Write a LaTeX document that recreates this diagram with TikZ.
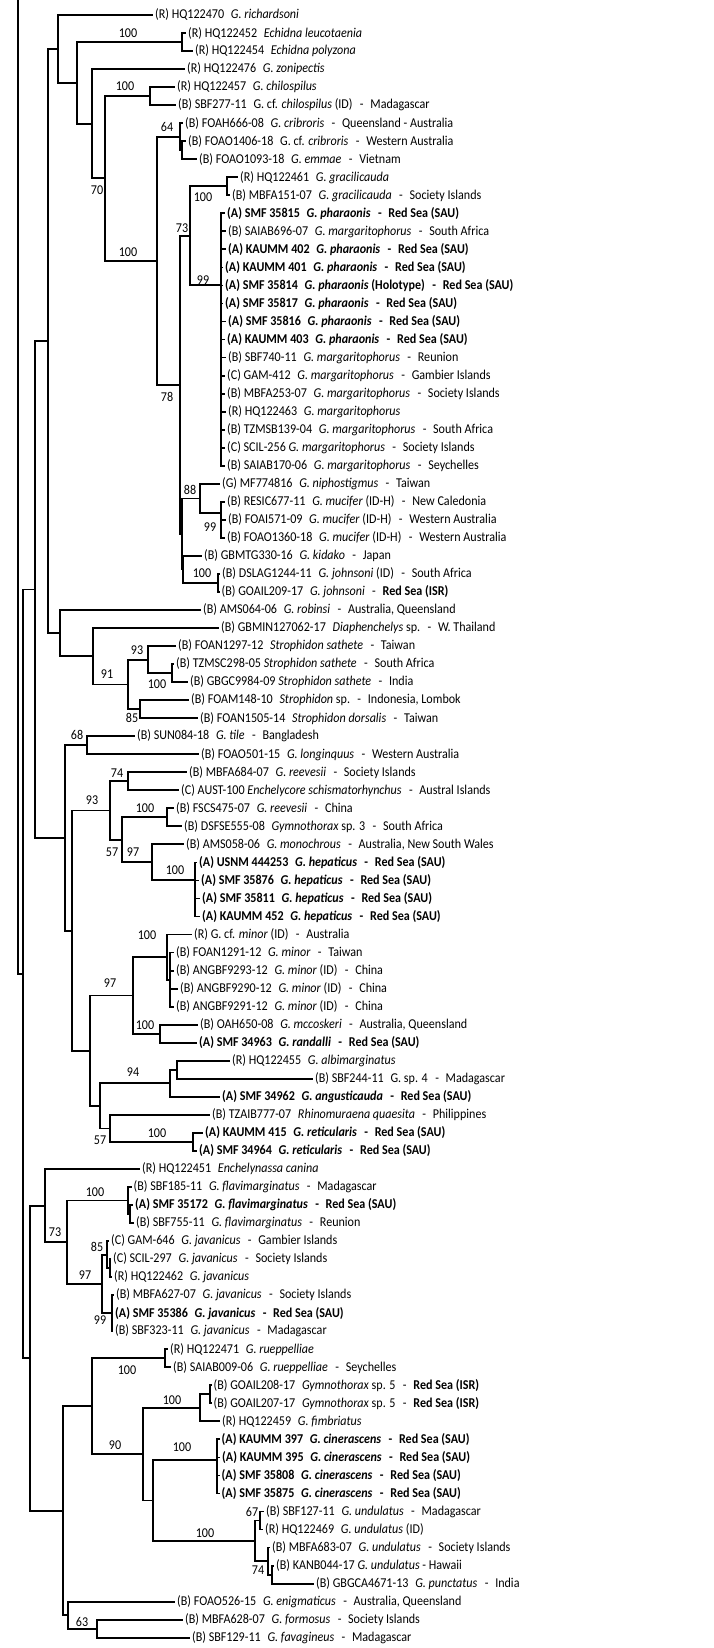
\documentclass[tikz,border=0pt]{standalone}
\usepackage{fontspec}
\setmainfont{Carlito}[FakeStretch=0.895]
\newcommand\mygap{\hspace{0.5em}}
\newcommand\mysep{\hspace{0.55em}-\hspace{0.5em}}
\newcommand\redA[2]{\textbf{(A) #1\mygap\textit{#2}\mysep Red Sea (SAU)}}
\tikzset{
  br/.style={line width=1.8pt},
  leaf/.style={anchor=west, inner xsep=2pt, inner ysep=0pt, font=\fontsize{13.5}{15}\selectfont},
  sup/.style={inner sep=0pt, font=\fontsize{13.5}{15}\selectfont},
}
\begin{document}
\begin{tikzpicture}[x=1pt,y=-1pt]
\useasboundingbox (0,0) rectangle (713,1648);
% ---------- leaves ----------
\node[leaf] (L1) at (153,15) {(R) HQ122470\mygap\textit{G. richardsoni}};
\node[leaf] (L2) at (186,33.03) {(R) HQ122452\mygap\textit{Echidna leucotaenia}};
\node[leaf] (L3) at (193,51.06) {(R) HQ122454\mygap\textit{Echidna polyzona}};
\node[leaf] (L4) at (185,69.09) {(R) HQ122476\mygap\textit{G. zonipectis}};
\node[leaf] (L5) at (175,87.12) {(R) HQ122457\mygap\textit{G. chilospilus}};
\node[leaf] (L6) at (176,105.15) {(B) SBF277-11\mygap G. cf. \textit{chilospilus} (ID)\mysep Madagascar};
\node[leaf] (L7) at (183,123.18) {(B) FOAH666-08\mygap\textit{G. cribroris}\mysep Queensland - Australia};
\node[leaf] (L8) at (186,141.21) {(B) FOAO1406-18\mygap G. cf. \textit{cribroris}\mysep Western Australia};
\node[leaf] (L9) at (197,159.24) {(B) FOAO1093-18\mygap\textit{G. emmae}\mysep Vietnam};
\node[leaf] (L10) at (238,177.27) {(R) HQ122461\mygap\textit{G. gracilicauda}};
\node[leaf] (L11) at (230,195.3) {(B) MBFA151-07\mygap\textit{G. gracilicauda}\mysep Society Islands};
\node[leaf] (L12) at (225,213.33) {\redA{SMF 35815}{G. pharaonis}};
\node[leaf] (L13) at (226,231.36) {(B) SAIAB696-07\mygap\textit{G. margaritophorus}\mysep South Africa};
\node[leaf] (L14) at (226,249.39) {\redA{KAUMM 402}{G. pharaonis}};
\node[leaf] (L15) at (223,267.42) {\redA{KAUMM 401}{G. pharaonis}};
\node[leaf] (L16) at (223,285.45) {\textbf{(A) SMF 35814\mygap\textit{G. pharaonis} (Holotype)\mysep Red Sea (SAU)}};
\node[leaf] (L17) at (223,303.48) {\redA{SMF 35817}{G. pharaonis}};
\node[leaf] (L18) at (226,321.51) {\redA{SMF 35816}{G. pharaonis}};
\node[leaf] (L19) at (225,339.54) {\redA{KAUMM 403}{G. pharaonis}};
\node[leaf] (L20) at (226,357.57) {(B) SBF740-11\mygap\textit{G. margaritophorus}\mysep Reunion};
\node[leaf] (L21) at (225,375.6) {(C) GAM-412\mygap\textit{G. margaritophorus}\mysep Gambier Islands};
\node[leaf] (L22) at (225,393.63) {(B) MBFA253-07\mygap\textit{G. margaritophorus}\mysep Society Islands};
\node[leaf] (L23) at (226,411.66) {(R) HQ122463\mygap\textit{G. margaritophorus}};
\node[leaf] (L24) at (225,429.69) {(B) TZMSB139-04\mygap\textit{G. margaritophorus}\mysep South Africa};
\node[leaf] (L25) at (225,447.72) {(C) SCIL-256 \textit{G. margaritophorus}\mysep Society Islands};
\node[leaf] (L26) at (225,465.75) {(B) SAIAB170-06\mygap\textit{G. margaritophorus}\mysep Seychelles};
\node[leaf] (L27) at (220,483.78) {(G) MF774816\mygap\textit{G. niphostigmus}\mysep Taiwan};
\node[leaf] (L28) at (225,501.81) {(B) RESIC677-11\mygap\textit{G. mucifer} (ID-H)\mysep New Caledonia};
\node[leaf] (L29) at (226,519.84) {(B) FOAI571-09\mygap\textit{G. mucifer} (ID-H)\mysep Western Australia};
\node[leaf] (L30) at (225,537.87) {(B) FOAO1360-18\mygap\textit{G. mucifer} (ID-H)\mysep Western Australia};
\node[leaf] (L31) at (202,555.9) {(B) GBMTG330-16\mygap\textit{G. kidako}\mysep Japan};
\node[leaf] (L32) at (220,573.93) {(B) DSLAG1244-11\mygap\textit{G. johnsoni} (ID)\mysep South Africa};
\node[leaf] (L33) at (219.5,591.96) {(B) GOAIL209-17\mygap\textit{G. johnsoni}\mysep\textbf{Red Sea (ISR)}};
\node[leaf] (L34) at (201,609.99) {(B) AMS064-06\mygap\textit{G. robinsi}\mysep Australia, Queensland};
\node[leaf] (L35) at (219,628.02) {(B) GBMIN127062-17\mygap\textit{Diaphenchelys} sp.\mysep W. Thailand};
\node[leaf] (L36) at (176,646.05) {(B) FOAN1297-12\mygap\textit{Strophidon sathete}\mysep Taiwan};
\node[leaf] (L37) at (174,664.08) {(B) TZMSC298-05 \textit{Strophidon sathete}\mysep South Africa};
\node[leaf] (L38) at (188,682.11) {(B) GBGC9984-09 \textit{Strophidon sathete}\mysep India};
\node[leaf] (L39) at (189,700.14) {(B) FOAM148-10\mygap\textit{Strophidon} sp.\mysep Indonesia, Lombok};
\node[leaf] (L40) at (198,718.17) {(B) FOAN1505-14\mygap\textit{Strophidon dorsalis}\mysep Taiwan};
\node[leaf] (L41) at (135,736.2) {(B) SUN084-18\mygap\textit{G. tile}\mysep Bangladesh};
\node[leaf] (L42) at (199,754.23) {(B) FOAO501-15\mygap\textit{G. longinquus}\mysep Western Australia};
\node[leaf] (L43) at (187,772.26) {(B) MBFA684-07\mygap\textit{G. reevesii}\mysep Society Islands};
\node[leaf] (L44) at (179,790.29) {(C) AUST-100 \textit{Enchelycore schismatorhynchus}\mysep Austral Islands};
\node[leaf] (L45) at (174,808.32) {(B) FSCS475-07\mygap\textit{G. reevesii}\mysep China};
\node[leaf] (L46) at (182,826.35) {(B) DSFSE555-08\mygap\textit{Gymnothorax} sp. 3\mysep South Africa};
\node[leaf] (L47) at (184,844.38) {(B) AMS058-06\mygap\textit{G. monochrous}\mysep Australia, New South Wales};
\node[leaf] (L48) at (197,862.41) {\redA{USNM 444253}{G. hepaticus}};
\node[leaf] (L49) at (199,880.44) {\redA{SMF 35876}{G. hepaticus}};
\node[leaf] (L50) at (200,898.47) {\redA{SMF 35811}{G. hepaticus}};
\node[leaf] (L51) at (200,916.5) {\redA{KAUMM 452}{G. hepaticus}};
\node[leaf] (L52) at (192,934.53) {(R) G. cf. \textit{minor} (ID)\mysep Australia};
\node[leaf] (L53) at (174,952.56) {(B) FOAN1291-12\mygap\textit{G. minor}\mysep Taiwan};
\node[leaf] (L54) at (174,970.59) {(B) ANGBF9293-12\mygap\textit{G. minor} (ID)\mysep China};
\node[leaf] (L55) at (178,988.62) {(B) ANGBF9290-12\mygap\textit{G. minor} (ID)\mysep China};
\node[leaf] (L56) at (174,1006.65) {(B) ANGBF9291-12\mygap\textit{G. minor} (ID)\mysep China};
\node[leaf] (L57) at (198,1024.68) {(B) OAH650-08\mygap\textit{G. mccoskeri}\mysep Australia, Queensland};
\node[leaf] (L58) at (197,1042.71) {\redA{SMF 34963}{G. randalli}};
\node[leaf] (L59) at (230,1060.74) {(R) HQ122455\mygap\textit{G. albimarginatus}};
\node[leaf] (L60) at (313,1078.77) {(B) SBF244-11\mygap G. sp. 4\mysep Madagascar};
\node[leaf] (L61) at (220,1096.8) {\redA{SMF 34962}{G. angusticauda}};
\node[leaf] (L62) at (210,1114.83) {(B) TZAIB777-07\mygap\textit{Rhinomuraena quaesita}\mysep Philippines};
\node[leaf] (L63) at (203,1132.86) {\redA{KAUMM 415}{G. reticularis}};
\node[leaf] (L64) at (197,1150.89) {\redA{SMF 34964}{G. reticularis}};
\node[leaf] (L65) at (140,1168.92) {(R) HQ122451\mygap\textit{Enchelynassa canina}};
\node[leaf] (L66) at (131.5,1186.95) {(B) SBF185-11\mygap\textit{G. flavimarginatus}\mysep Madagascar};
\node[leaf] (L67) at (133,1204.98) {\redA{SMF 35172}{G. flavimarginatus}};
\node[leaf] (L68) at (134,1223.01) {(B) SBF755-11\mygap\textit{G. flavimarginatus}\mysep Reunion};
\node[leaf] (L69) at (109,1241.04) {(C) GAM-646\mygap\textit{G. javanicus}\mysep Gambier Islands};
\node[leaf] (L70) at (111,1259.07) {(C) SCIL-297\mygap\textit{G. javanicus}\mysep Society Islands};
\node[leaf] (L71) at (112,1277.1) {(R) HQ122462\mygap\textit{G. javanicus}};
\node[leaf] (L72) at (114,1295.13) {(B) MBFA627-07\mygap\textit{G. javanicus}\mysep Society Islands};
\node[leaf] (L73) at (113,1313.16) {\redA{SMF 35386}{G. javanicus}};
\node[leaf] (L74) at (113,1331.19) {(B) SBF323-11\mygap\textit{G. javanicus}\mysep Madagascar};
\node[leaf] (L75) at (168,1349.22) {(R) HQ122471\mygap\textit{G. rueppelliae}};
\node[leaf] (L76) at (171,1367.25) {(B) SAIAB009-06\mygap\textit{G. rueppelliae}\mysep Seychelles};
\node[leaf] (L77) at (211.5,1385.28) {(B) GOAIL208-17\mygap\textit{Gymnothorax} sp. 5\mysep\textbf{Red Sea (ISR)}};
\node[leaf] (L78) at (211.5,1403.31) {(B) GOAIL207-17\mygap\textit{Gymnothorax} sp. 5\mysep\textbf{Red Sea (ISR)}};
\node[leaf] (L79) at (220,1421.34) {(R) HQ122459\mygap\textit{G. fimbriatus}};
\node[leaf] (L80) at (219.5,1439.37) {\redA{KAUMM 397}{G. cinerascens}};
\node[leaf] (L81) at (220,1457.4) {\redA{KAUMM 395}{G. cinerascens}};
\node[leaf] (L82) at (219.5,1475.43) {\redA{SMF 35808}{G. cinerascens}};
\node[leaf] (L83) at (219.5,1493.46) {\redA{SMF 35875}{G. cinerascens}};
\node[leaf] (L84) at (264,1511.49) {(B) SBF127-11\mygap\textit{G. undulatus}\mysep Madagascar};
\node[leaf] (L85) at (263,1529.52) {(R) HQ122469\mygap\textit{G. undulatus} (ID)};
\node[leaf] (L86) at (270,1547.55) {(B) MBFA683-07\mygap\textit{G. undulatus}\mysep Society Islands};
\node[leaf] (L87) at (274,1565.58) {(B) KANB044-17 \textit{G. undulatus} - Hawaii};
\node[leaf] (L88) at (314,1583.61) {(B) GBGCA4671-13\mygap\textit{G. punctatus}\mysep India};
\node[leaf] (L89) at (175,1601.64) {(B) FOAO526-15\mygap\textit{G. enigmaticus}\mysep Australia, Queensland};
\node[leaf] (L90) at (183,1619.67) {(B) MBFA628-07\mygap\textit{G. formosus}\mysep Society Islands};
\node[leaf] (L91) at (190,1637.7) {(B) SBF129-11\mygap\textit{G. favagineus}\mysep Madagascar};
% ---------- internal nodes ----------
\coordinate (top) at (18,0);
\coordinate (n18) at (18,973.9);
\coordinate (n23) at (23,973.9);
\coordinate (n35) at (35,589.5);
\coordinate (n48) at (48,341);
\coordinate (n58) at (58,49);
\coordinate (n77) at (77,82.9);
\coordinate (n182e) at (182,42.05);
\coordinate (n92) at (92,123.7);
\coordinate (n105) at (105,178.4);
\coordinate (n150) at (150,96.1);
\coordinate (n157) at (157,260.7);
\coordinate (n180c) at (180,136.7);
\coordinate (n182c) at (182,150.2);
\coordinate (n180b) at (180,384.8);
\coordinate (n190) at (190,235.6);
\coordinate (n227) at (227,186.3);
\coordinate (n221) at (221,285);
\coordinate (n182j) at (182,533.9);
\coordinate (n200) at (200,498.4);
\coordinate (n221m) at (221,513);
\coordinate (n183) at (183,569.4);
\coordinate (n218) at (218,582.9);
\coordinate (n60) at (60,633.1);
\coordinate (n93) at (93,656.2);
\coordinate (n128s) at (128,684.4);
\coordinate (n148) at (148,659.6);
\coordinate (n172) at (172,673.1);
\coordinate (n140) at (140,709.2);
\coordinate (n65) at (65,837.9);
\coordinate (n87) at (87,745.2);
\coordinate (n72) at (72,930.6);
\coordinate (n110) at (110,810.5);
\coordinate (n128r) at (128,781.3);
\coordinate (n122) at (122,839.8);
\coordinate (n167r) at (167,817.3);
\coordinate (n152) at (152,862.2);
\coordinate (n195) at (195,880);
\coordinate (n90) at (90,1050.6);
\coordinate (n133) at (133,995.4);
\coordinate (n167m) at (167,957.1);
\coordinate (n170) at (170,979.6);
\coordinate (n160) at (160,1033.7);
\coordinate (n100) at (100,1105.8);
\coordinate (n170a) at (170,1083.3);
\coordinate (n177) at (177,1069.8);
\coordinate (n110t) at (110,1128.4);
\coordinate (n193) at (193,1141.9);
\coordinate (n30) at (30,1358.2);
\coordinate (n45) at (45,1205.6);
\coordinate (n67) at (67,1242.2);
\coordinate (n128f) at (128,1200.5);
\coordinate (n130) at (130,1214);
\coordinate (n102) at (102,1283.9);
\coordinate (n107) at (107,1254.6);
\coordinate (n110j) at (110,1268.1);
\coordinate (n112) at (112,1313.2);
\coordinate (n63) at (63,1510.7);
\coordinate (n92b) at (92,1406.2);
\coordinate (n165) at (165,1358.2);
\coordinate (n143) at (143,1454.1);
\coordinate (n200b) at (200,1407.8);
\coordinate (n210) at (210,1394.3);
\coordinate (n153) at (153,1500.4);
\coordinate (n217) at (217,1460);
\coordinate (n255) at (255,1540.8);
\coordinate (n260) at (260,1520.5);
\coordinate (n268) at (268,1561.1);
\coordinate (n272) at (272,1574.6);
\coordinate (n68) at (68,1615.2);
\coordinate (n97) at (97,1628.7);
% ---------- branches ----------
\begin{scope}[br]
\draw (top) -- (n18) -- (n23);
\draw (n23) |- (n35); \draw (n23) |- (n30);
\draw (n35) |- (n48); \draw (n35) |- (n65);
\draw (n48) |- (n58); \draw (n48) |- (n60);
\draw (n58) |- (L1.west); \draw (n58) |- (n77);
\draw (n77) |- (n182e); \draw (n77) |- (n92);
\draw (n182e) |- (L2.west); \draw (n182e) |- (L3.west);
\draw (n92) |- (L4.west); \draw (n92) |- (n105);
\draw (n105) |- (n150); \draw (n105) |- (n157);
\draw (n150) |- (L5.west); \draw (n150) |- (L6.west);
\draw (n157) |- (n180c); \draw (n157) |- (n180b);
\draw (n180c) |- (L7.west); \draw (n180c) |- (n182c);
\draw (n182c) |- (L8.west); \draw (n182c) |- (L9.west);
\draw (n180b) |- (n190); \draw (n180b) |- (n182j);
\draw (n190) |- (n227); \draw (n190) |- (n221);
\draw (n227) |- (L10.west); \draw (n227) |- (L11.west);
\foreach \k in {12,...,26} {\draw (n221) |- (L\k.west);}
\draw (n182j) |- (n200); \draw (n182j) |- (n183);
\draw (n200) |- (L27.west); \draw (n200) |- (n221m);
\foreach \k in {28,29,30} {\draw (n221m) |- (L\k.west);}
\draw (n183) |- (L31.west); \draw (n183) |- (n218);
\draw (n218) |- (L32.west); \draw (n218) |- (L33.west);
\draw (n60) |- (L34.west); \draw (n60) |- (n93);
\draw (n93) |- (L35.west); \draw (n93) |- (n128s);
\draw (n128s) |- (n148); \draw (n128s) |- (n140);
\draw (n148) |- (L36.west); \draw (n148) |- (n172);
\draw (n172) |- (L37.west); \draw (n172) |- (L38.west);
\draw (n140) |- (L39.west); \draw (n140) |- (L40.west);
\draw (n65) |- (n87); \draw (n65) |- (n72);
\draw (n87) |- (L41.west); \draw (n87) |- (L42.west);
\draw (n72) |- (n110); \draw (n72) |- (n90);
\draw (n110) |- (n128r); \draw (n110) |- (n122);
\draw (n128r) |- (L43.west); \draw (n128r) |- (L44.west);
\draw (n122) |- (n167r); \draw (n122) |- (n152);
\draw (n167r) |- (L45.west); \draw (n167r) |- (L46.west);
\draw (n152) |- (L47.west); \draw (n152) |- (n195);
\foreach \k in {48,...,51} {\draw (n195) |- (L\k.west);}
\draw (n90) |- (n133); \draw (n90) |- (n100);
\draw (n133) |- (n167m); \draw (n133) |- (n160);
\draw (n167m) |- (L52.west); \draw (n167m) |- (n170);
\foreach \k in {53,...,56} {\draw (n170) |- (L\k.west);}
\draw (n160) |- (L57.west); \draw (n160) |- (L58.west);
\draw (n100) |- (n170a); \draw (n100) |- (n110t);
\draw (n170a) |- (n177); \draw (n170a) |- (L61.west);
\draw (n177) |- (L59.west); \draw (n177) |- (L60.west);
\draw (n110t) |- (L62.west); \draw (n110t) |- (n193);
\draw (n193) |- (L63.west); \draw (n193) |- (L64.west);
\draw (n30) |- (n45); \draw (n30) |- (n63);
\draw (n45) |- (L65.west); \draw (n45) |- (n67);
\draw (n67) |- (n128f); \draw (n67) |- (n102);
\draw (n128f) |- (L66.west); \draw (n128f) |- (n130);
\draw (n130) |- (L67.west); \draw (n130) |- (L68.west);
\draw (n102) |- (n107); \draw (n102) |- (n112);
\draw (n107) |- (L69.west); \draw (n107) |- (n110j);
\draw (n110j) |- (L70.west); \draw (n110j) |- (L71.west);
\foreach \k in {72,73,74} {\draw (n112) |- (L\k.west);}
\draw (n63) |- (n92b); \draw (n63) |- (n68);
\draw (n92b) |- (n165); \draw (n92b) |- (n143);
\draw (n165) |- (L75.west); \draw (n165) |- (L76.west);
\draw (n143) |- (n200b); \draw (n143) |- (n153);
\draw (n200b) |- (n210); \draw (n200b) |- (L79.west);
\draw (n210) |- (L77.west); \draw (n210) |- (L78.west);
\draw (n153) |- (n217); \draw (n153) |- (n255);
\foreach \k in {80,...,83} {\draw (n217) |- (L\k.west);}
\draw (n255) |- (n260); \draw (n255) |- (n268);
\draw (n260) |- (L84.west); \draw (n260) |- (L85.west);
\draw (n268) |- (L86.west); \draw (n268) |- (n272);
\draw (n272) |- (L87.west); \draw (n272) |- (L88.west);
\draw (n68) |- (L89.west); \draw (n68) |- (n97);
\draw (n97) |- (L90.west); \draw (n97) |- (L91.west);
\end{scope}
% ---------- support values ----------
\node[sup] (s1) at (128,33) {100};
\node[sup] (s2) at (125,86) {100};
\node[sup] (s3) at (167,127) {64};
\node[sup] (s4) at (97,190) {70};
\node[sup] (s5) at (128,252) {100};
\node[sup] (s6) at (203,197) {100};
\node[sup] (s7) at (182,228) {73};
\node[sup] (s8) at (203,280) {99};
\node[sup] (s9) at (167,397) {78};
\node[sup] (s10) at (190,490) {88};
\node[sup] (s11) at (210,527) {99};
\node[sup] (s12) at (202,573) {100};
\node[sup] (s13) at (137,650) {93};
\node[sup] (s14) at (157,684) {100};
\node[sup] (s15) at (107,674) {91};
\node[sup] (s16) at (132,718) {85};
\node[sup] (s17) at (77,735) {68};
\node[sup] (s18) at (117,773) {74};
\node[sup] (s19) at (92,800) {93};
\node[sup] (s20) at (145,808) {100};
\node[sup] (s21) at (112,852) {57};
\node[sup] (s22) at (133,852) {97};
\node[sup] (s23) at (175,870) {100};
\node[sup] (s24) at (147,935) {100};
\node[sup] (s25) at (110,983) {97};
\node[sup] (s26) at (145,1025) {100};
\node[sup] (s27) at (133,1072) {94};
\node[sup] (s28) at (100,1140) {57};
\node[sup] (s29) at (157,1133) {100};
\node[sup] (s30) at (95,1192) {100};
\node[sup] (s31) at (55,1232) {73};
\node[sup] (s32) at (97,1247) {85};
\node[sup] (s33) at (85,1275) {97};
\node[sup] (s34) at (100,1320) {99};
\node[sup] (s35) at (127,1370) {100};
\node[sup] (s36) at (172,1400) {100};
\node[sup] (s37) at (115,1445) {90};
\node[sup] (s38) at (182,1447) {100};
\node[sup] (s39) at (252,1512) {67};
\node[sup] (s40) at (205,1533) {100};
\node[sup] (s41) at (258,1570) {74};
\node[sup] (s42) at (82,1622) {63};
\end{tikzpicture}
\end{document}
